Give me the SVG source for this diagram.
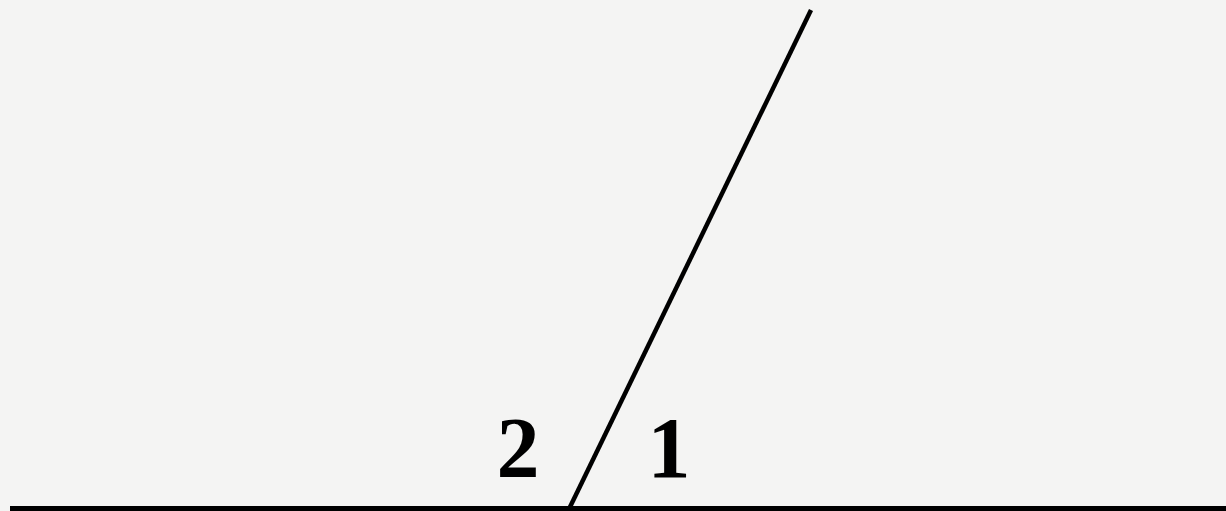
<svg xmlns="http://www.w3.org/2000/svg" width="1226" height="511" viewBox="0 0 1226 511">
  <style>
    .ln { stroke: #000; fill: none; stroke-linecap: butt; }
    .lbl { font-family: "Liberation Serif", "Times New Roman", serif; font-weight: bold; font-size: 86px; fill: #000; text-anchor: middle; }
  </style>
  <rect x="0" y="0" width="1226" height="511" fill="#f4f4f3"/>
  <g id="connectors">
    <line class="ln" x1="10" y1="508.5" x2="1226" y2="508.5" stroke-width="5"/>
    <line class="ln" x1="811" y1="10" x2="570" y2="507" stroke-width="4.5"/>
  </g>
  <g id="label-2"><text class="lbl" x="518" y="477">2</text></g>
  <g id="label-1"><text class="lbl" x="669" y="477">1</text></g>
</svg>
